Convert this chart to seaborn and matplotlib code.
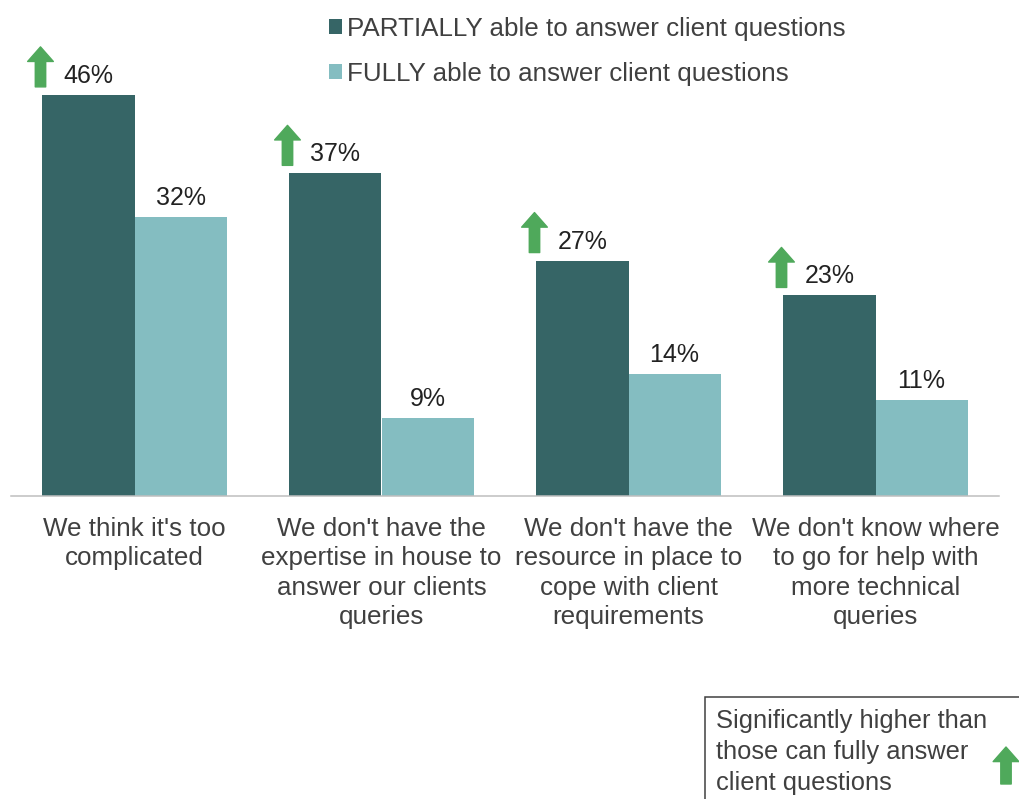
import matplotlib
matplotlib.use("Agg")
import matplotlib.pyplot as plt
import matplotlib.transforms as mtransforms
from matplotlib.patches import Rectangle, Patch
import seaborn as sns
import pandas as pd

# Survey data
reasons = [
    "We think it's too\ncomplicated",
    "We don't have the\nexpertise in house to\nanswer our clients\nqueries",
    "We don't have the\nresource in place to\ncope with client\nrequirements",
    "We don't know where\nto go for help with\nmore technical\nqueries",
]
groups = ["PARTIALLY able to answer client questions",
          "FULLY able to answer client questions"]
partially = [46, 37, 27, 23]
fully = [32, 9, 14, 11]
significant = [True, True, True, True]  # PARTIALLY significantly higher

dark = "#366566"
light = "#84BDC1"
green = "#4FA95B"

df = pd.DataFrame({
    "reason": reasons * 2,
    "group": [groups[0]] * len(reasons) + [groups[1]] * len(reasons),
    "pct": partially + fully,
})

sns.set_theme(style="white")
plt.rcParams["font.family"] = ["Liberation Sans", "DejaVu Sans"]

W, H = 1019, 799
FS = 18.7
fig = plt.figure(figsize=(W / 100, H / 100), dpi=100)
ax = fig.add_axes([11 / W, (H - 496) / H, 988 / W, 436 / H])

sns.barplot(data=df, x="reason", y="pct", hue="group", hue_order=groups,
            order=reasons, palette=[dark, light], width=0.745,
            saturation=1, ax=ax, legend=False, errorbar=None, linewidth=0)

ax.set_xlim(-0.5, 3.5)
ax.set_ylim(0, 50)
ax.set_xlabel("")
ax.set_ylabel("")
ax.set_yticks([])
ax.tick_params(axis="x", length=0, pad=15, labelsize=FS, labelcolor="#404040")
for lab in ax.get_xticklabels():
    lab.set_linespacing(1.29)
for s in ["left", "right", "top"]:
    ax.spines[s].set_visible(False)
ax.spines["bottom"].set_color("#BFBFBF")
ax.spines["bottom"].set_linewidth(1.1)

arrow_style = "simple,head_length=10.5,head_width=18.5,tail_width=7.5"

# value labels and significance arrows
for container, vals, is_dark in zip(ax.containers, [partially, fully], [True, False]):
    for i, (bar, v) in enumerate(zip(container.patches, vals)):
        cx = bar.get_x() + bar.get_width() / 2
        ax.annotate(f"{v}%", xy=(cx, v), xytext=(0, 12), textcoords="offset pixels",
                    ha="center", va="baseline", fontsize=18, color="#222222")
        if is_dark and significant[i]:
            tip = mtransforms.offset_copy(ax.transData, fig=fig, x=-2, y=48, units="dots")
            ax.annotate("", xy=(bar.get_x(), v), xycoords=tip,
                        xytext=(0, -40), textcoords="offset pixels",
                        arrowprops=dict(arrowstyle=arrow_style, color=green,
                                        shrinkA=0, shrinkB=0, mutation_scale=1),
                        annotation_clip=False)

# legend
handles = [Patch(facecolor=dark, edgecolor="none"), Patch(facecolor=light, edgecolor="none")]
fig.legend(handles, groups, loc="upper left", bbox_to_anchor=(329 / W, 1 - 17 / H),
           frameon=False, fontsize=FS, handlelength=0.5, handleheight=0.5,
           handletextpad=0.2, labelspacing=0.8, borderpad=0, borderaxespad=0,
           labelcolor="#404040")

# significance key box
fig.patches.append(Rectangle((705 / W, -0.05), 0.4, 0.05 + (H - 697) / H,
                             transform=fig.transFigure, fill=False,
                             edgecolor="#404040", linewidth=1.1))
fig.text(716 / W, 1 - 709 / H,
         "Significantly higher than\nthose can fully answer\nclient questions",
         ha="left", va="top", fontsize=18.4, color="#404040", linespacing=1.38)
ax.annotate("", xy=(1006, H - 747), xycoords="figure pixels",
            xytext=(1006, H - 784), textcoords="figure pixels",
            arrowprops=dict(arrowstyle=arrow_style, color=green,
                            shrinkA=0, shrinkB=0, mutation_scale=1),
            annotation_clip=False)

fig.savefig("out.png", dpi=100)
